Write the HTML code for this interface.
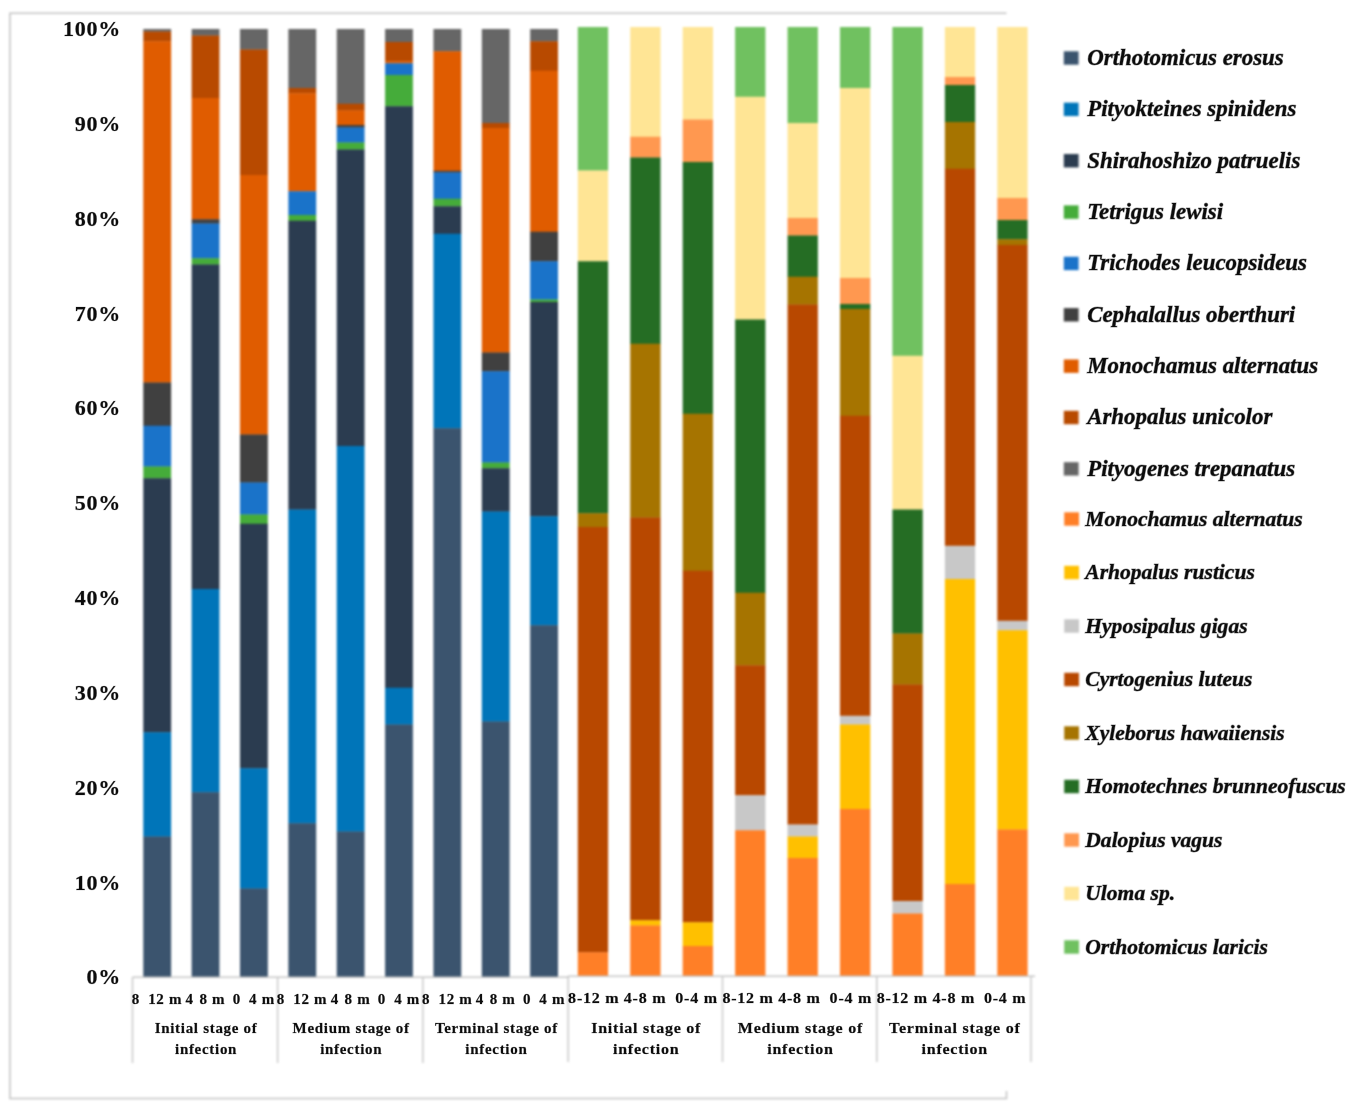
<!DOCTYPE html>
<html lang="en"><head><meta charset="utf-8"><title>Beetle community composition</title>
<style>
html,body{margin:0;padding:0;background:#fff;}
body{width:1362px;height:1108px;overflow:hidden;}
svg{display:block;}
text{font-family:"Liberation Serif","Times New Roman",serif;font-weight:bold;fill:#0c0c0c;stroke:rgba(12,12,12,0.4);stroke-width:1px;}
.yl{font-size:22px;letter-spacing:0.75px;stroke-width:0.7px;stroke:rgba(12,12,12,0.3);}
.lc{font-size:15px;letter-spacing:0.7px;stroke-width:0.5px;stroke:rgba(12,12,12,0.35);}
.ls{font-size:15px;letter-spacing:0.7px;stroke-width:0.5px;stroke:rgba(12,12,12,0.35);}
.lg{font-size:22.9px;font-style:italic;}
.lg2{font-size:20.15px;font-style:italic;}
</style></head><body>
<svg width="1362" height="1108" viewBox="0 0 1362 1108">
<rect x="0" y="0" width="1362" height="1108" fill="#ffffff"/>
<g style="filter:blur(0.8px)">
<rect x="143.30" y="29.00" width="27.80" height="2.80" fill="#666666"/>
<rect x="143.30" y="31.50" width="27.80" height="10.05" fill="#b84a00"/>
<rect x="143.30" y="41.25" width="27.80" height="341.55" fill="#e05c00"/>
<rect x="143.30" y="382.50" width="27.80" height="43.55" fill="#404040"/>
<rect x="143.30" y="425.75" width="27.80" height="41.05" fill="#1a73c9"/>
<rect x="143.30" y="466.50" width="27.80" height="12.05" fill="#45ac3a"/>
<rect x="143.30" y="478.25" width="27.80" height="254.30" fill="#2b3c50"/>
<rect x="143.30" y="732.25" width="27.80" height="104.55" fill="#0075b9"/>
<rect x="143.30" y="836.50" width="27.80" height="140.50" fill="#3b546e"/>
<rect x="191.66" y="29.00" width="27.80" height="6.80" fill="#666666"/>
<rect x="191.66" y="35.50" width="27.80" height="62.80" fill="#b84a00"/>
<rect x="191.66" y="98.00" width="27.80" height="121.55" fill="#e05c00"/>
<rect x="191.66" y="219.25" width="27.80" height="4.55" fill="#404040"/>
<rect x="191.66" y="223.50" width="27.80" height="35.05" fill="#1a73c9"/>
<rect x="191.66" y="258.25" width="27.80" height="6.55" fill="#45ac3a"/>
<rect x="191.66" y="264.50" width="27.80" height="324.80" fill="#2b3c50"/>
<rect x="191.66" y="589.00" width="27.80" height="203.55" fill="#0075b9"/>
<rect x="191.66" y="792.25" width="27.80" height="184.75" fill="#3b546e"/>
<rect x="240.02" y="29.00" width="27.80" height="20.80" fill="#666666"/>
<rect x="240.02" y="49.50" width="27.80" height="125.80" fill="#b84a00"/>
<rect x="240.02" y="175.00" width="27.80" height="259.80" fill="#e05c00"/>
<rect x="240.02" y="434.50" width="27.80" height="48.30" fill="#404040"/>
<rect x="240.02" y="482.50" width="27.80" height="32.30" fill="#1a73c9"/>
<rect x="240.02" y="514.50" width="27.80" height="9.55" fill="#45ac3a"/>
<rect x="240.02" y="523.75" width="27.80" height="244.80" fill="#2b3c50"/>
<rect x="240.02" y="768.25" width="27.80" height="120.55" fill="#0075b9"/>
<rect x="240.02" y="888.50" width="27.80" height="88.50" fill="#3b546e"/>
<rect x="288.38" y="29.00" width="27.80" height="59.30" fill="#666666"/>
<rect x="288.38" y="88.00" width="27.80" height="5.55" fill="#b84a00"/>
<rect x="288.38" y="93.25" width="27.80" height="98.30" fill="#e05c00"/>
<rect x="288.38" y="191.25" width="27.80" height="24.05" fill="#1a73c9"/>
<rect x="288.38" y="215.00" width="27.80" height="6.05" fill="#45ac3a"/>
<rect x="288.38" y="220.75" width="27.80" height="289.05" fill="#2b3c50"/>
<rect x="288.38" y="509.50" width="27.80" height="314.05" fill="#0075b9"/>
<rect x="288.38" y="823.25" width="27.80" height="153.75" fill="#3b546e"/>
<rect x="336.74" y="29.00" width="27.80" height="75.05" fill="#666666"/>
<rect x="336.74" y="103.75" width="27.80" height="7.05" fill="#b84a00"/>
<rect x="336.74" y="110.50" width="27.80" height="14.80" fill="#e05c00"/>
<rect x="336.74" y="125.00" width="27.80" height="2.80" fill="#404040"/>
<rect x="336.74" y="127.50" width="27.80" height="15.30" fill="#1a73c9"/>
<rect x="336.74" y="142.50" width="27.80" height="7.30" fill="#45ac3a"/>
<rect x="336.74" y="149.50" width="27.80" height="296.80" fill="#2b3c50"/>
<rect x="336.74" y="446.00" width="27.80" height="385.80" fill="#0075b9"/>
<rect x="336.74" y="831.50" width="27.80" height="145.50" fill="#3b546e"/>
<rect x="385.10" y="29.00" width="27.80" height="13.30" fill="#666666"/>
<rect x="385.10" y="42.00" width="27.80" height="19.55" fill="#b84a00"/>
<rect x="385.10" y="61.25" width="27.80" height="2.30" fill="#e05c00"/>
<rect x="385.10" y="63.25" width="27.80" height="12.05" fill="#1a73c9"/>
<rect x="385.10" y="75.00" width="27.80" height="31.55" fill="#45ac3a"/>
<rect x="385.10" y="106.25" width="27.80" height="581.80" fill="#2b3c50"/>
<rect x="385.10" y="687.75" width="27.80" height="37.05" fill="#0075b9"/>
<rect x="385.10" y="724.50" width="27.80" height="252.50" fill="#3b546e"/>
<rect x="433.46" y="29.00" width="27.80" height="22.55" fill="#666666"/>
<rect x="433.46" y="51.25" width="27.80" height="119.80" fill="#e05c00"/>
<rect x="433.46" y="170.75" width="27.80" height="2.05" fill="#404040"/>
<rect x="433.46" y="172.50" width="27.80" height="26.55" fill="#1a73c9"/>
<rect x="433.46" y="198.75" width="27.80" height="7.80" fill="#45ac3a"/>
<rect x="433.46" y="206.25" width="27.80" height="27.80" fill="#2b3c50"/>
<rect x="433.46" y="233.75" width="27.80" height="194.80" fill="#0075b9"/>
<rect x="433.46" y="428.25" width="27.80" height="548.75" fill="#3b546e"/>
<rect x="481.82" y="29.00" width="27.80" height="94.30" fill="#666666"/>
<rect x="481.82" y="123.00" width="27.80" height="5.30" fill="#b84a00"/>
<rect x="481.82" y="128.00" width="27.80" height="224.80" fill="#e05c00"/>
<rect x="481.82" y="352.50" width="27.80" height="19.05" fill="#404040"/>
<rect x="481.82" y="371.25" width="27.80" height="91.55" fill="#1a73c9"/>
<rect x="481.82" y="462.50" width="27.80" height="6.05" fill="#45ac3a"/>
<rect x="481.82" y="468.25" width="27.80" height="43.55" fill="#2b3c50"/>
<rect x="481.82" y="511.50" width="27.80" height="210.30" fill="#0075b9"/>
<rect x="481.82" y="721.50" width="27.80" height="255.50" fill="#3b546e"/>
<rect x="530.18" y="29.00" width="27.80" height="12.55" fill="#666666"/>
<rect x="530.18" y="41.25" width="27.80" height="29.80" fill="#b84a00"/>
<rect x="530.18" y="70.75" width="27.80" height="161.30" fill="#e05c00"/>
<rect x="530.18" y="231.75" width="27.80" height="29.80" fill="#404040"/>
<rect x="530.18" y="261.25" width="27.80" height="38.55" fill="#1a73c9"/>
<rect x="530.18" y="299.50" width="27.80" height="2.80" fill="#45ac3a"/>
<rect x="530.18" y="302.00" width="27.80" height="214.55" fill="#2b3c50"/>
<rect x="530.18" y="516.25" width="27.80" height="109.30" fill="#0075b9"/>
<rect x="530.18" y="625.25" width="27.80" height="351.75" fill="#3b546e"/>
<rect x="577.80" y="27.00" width="30.30" height="143.80" fill="#70c160"/>
<rect x="577.80" y="170.50" width="30.30" height="91.05" fill="#ffe595"/>
<rect x="577.80" y="261.25" width="30.30" height="252.30" fill="#256d24"/>
<rect x="577.80" y="513.25" width="30.30" height="14.05" fill="#a67400"/>
<rect x="577.80" y="527.00" width="30.30" height="425.55" fill="#b84800"/>
<rect x="577.80" y="952.25" width="30.30" height="23.75" fill="#ff7f27"/>
<rect x="630.24" y="27.00" width="30.30" height="110.05" fill="#ffe595"/>
<rect x="630.24" y="136.75" width="30.30" height="21.05" fill="#ff9850"/>
<rect x="630.24" y="157.50" width="30.30" height="186.55" fill="#256d24"/>
<rect x="630.24" y="343.75" width="30.30" height="174.05" fill="#a67400"/>
<rect x="630.24" y="517.50" width="30.30" height="403.05" fill="#b84800"/>
<rect x="630.24" y="920.25" width="30.30" height="5.55" fill="#ffc000"/>
<rect x="630.24" y="925.50" width="30.30" height="50.50" fill="#ff7f27"/>
<rect x="682.68" y="27.00" width="30.30" height="92.80" fill="#ffe595"/>
<rect x="682.68" y="119.50" width="30.30" height="42.80" fill="#ff9850"/>
<rect x="682.68" y="162.00" width="30.30" height="252.05" fill="#256d24"/>
<rect x="682.68" y="413.75" width="30.30" height="157.30" fill="#a67400"/>
<rect x="682.68" y="570.75" width="30.30" height="351.80" fill="#b84800"/>
<rect x="682.68" y="922.25" width="30.30" height="24.05" fill="#ffc000"/>
<rect x="682.68" y="946.00" width="30.30" height="30.00" fill="#ff7f27"/>
<rect x="735.12" y="27.00" width="30.30" height="70.05" fill="#70c160"/>
<rect x="735.12" y="96.75" width="30.30" height="223.05" fill="#ffe595"/>
<rect x="735.12" y="319.50" width="30.30" height="273.55" fill="#256d24"/>
<rect x="735.12" y="592.75" width="30.30" height="72.80" fill="#a67400"/>
<rect x="735.12" y="665.25" width="30.30" height="130.30" fill="#b84800"/>
<rect x="735.12" y="795.25" width="30.30" height="35.30" fill="#c8c8c8"/>
<rect x="735.12" y="830.25" width="30.30" height="145.75" fill="#ff7f27"/>
<rect x="787.56" y="27.00" width="30.30" height="96.30" fill="#70c160"/>
<rect x="787.56" y="123.00" width="30.30" height="95.30" fill="#ffe595"/>
<rect x="787.56" y="218.00" width="30.30" height="17.80" fill="#ff9850"/>
<rect x="787.56" y="235.50" width="30.30" height="41.55" fill="#256d24"/>
<rect x="787.56" y="276.75" width="30.30" height="28.05" fill="#a67400"/>
<rect x="787.56" y="304.50" width="30.30" height="520.30" fill="#b84800"/>
<rect x="787.56" y="824.50" width="30.30" height="12.30" fill="#c8c8c8"/>
<rect x="787.56" y="836.50" width="30.30" height="21.80" fill="#ffc000"/>
<rect x="787.56" y="858.00" width="30.30" height="118.00" fill="#ff7f27"/>
<rect x="840.00" y="27.00" width="30.30" height="61.30" fill="#70c160"/>
<rect x="840.00" y="88.00" width="30.30" height="190.30" fill="#ffe595"/>
<rect x="840.00" y="278.00" width="30.30" height="26.30" fill="#ff9850"/>
<rect x="840.00" y="304.00" width="30.30" height="5.30" fill="#256d24"/>
<rect x="840.00" y="309.00" width="30.30" height="107.05" fill="#a67400"/>
<rect x="840.00" y="415.75" width="30.30" height="300.30" fill="#b84800"/>
<rect x="840.00" y="715.75" width="30.30" height="9.05" fill="#c8c8c8"/>
<rect x="840.00" y="724.50" width="30.30" height="84.80" fill="#ffc000"/>
<rect x="840.00" y="809.00" width="30.30" height="167.00" fill="#ff7f27"/>
<rect x="892.44" y="27.00" width="30.30" height="329.05" fill="#70c160"/>
<rect x="892.44" y="355.75" width="30.30" height="154.05" fill="#ffe595"/>
<rect x="892.44" y="509.50" width="30.30" height="124.30" fill="#256d24"/>
<rect x="892.44" y="633.50" width="30.30" height="51.30" fill="#a67400"/>
<rect x="892.44" y="684.50" width="30.30" height="216.80" fill="#b84800"/>
<rect x="892.44" y="901.00" width="30.30" height="12.80" fill="#c8c8c8"/>
<rect x="892.44" y="913.50" width="30.30" height="62.50" fill="#ff7f27"/>
<rect x="944.88" y="27.00" width="30.30" height="50.30" fill="#ffe595"/>
<rect x="944.88" y="77.00" width="30.30" height="8.30" fill="#ff9850"/>
<rect x="944.88" y="85.00" width="30.30" height="37.30" fill="#256d24"/>
<rect x="944.88" y="122.00" width="30.30" height="47.05" fill="#a67400"/>
<rect x="944.88" y="168.75" width="30.30" height="377.30" fill="#b84800"/>
<rect x="944.88" y="545.75" width="30.30" height="33.55" fill="#c8c8c8"/>
<rect x="944.88" y="579.00" width="30.30" height="305.30" fill="#ffc000"/>
<rect x="944.88" y="884.00" width="30.30" height="92.00" fill="#ff7f27"/>
<rect x="997.32" y="27.00" width="30.30" height="171.30" fill="#ffe595"/>
<rect x="997.32" y="198.00" width="30.30" height="22.30" fill="#ff9850"/>
<rect x="997.32" y="220.00" width="30.30" height="19.55" fill="#256d24"/>
<rect x="997.32" y="239.25" width="30.30" height="6.05" fill="#a67400"/>
<rect x="997.32" y="245.00" width="30.30" height="376.05" fill="#b84800"/>
<rect x="997.32" y="620.75" width="30.30" height="9.80" fill="#c8c8c8"/>
<rect x="997.32" y="630.25" width="30.30" height="199.55" fill="#ffc000"/>
<rect x="997.32" y="829.50" width="30.30" height="146.50" fill="#ff7f27"/>
<path d="M1006.5 1091 V1098.4 H9.9 V13.2 H1006.5" fill="none" stroke="#c2c2c2" stroke-width="1.5"/>
<path d="M132.5 977.3 H568" fill="none" stroke="#c6c6c6" stroke-width="1.4"/>
<path d="M568 976.2 H1035" fill="none" stroke="#c6c6c6" stroke-width="1.4"/>
<path d="M132.5 977 V1063" fill="none" stroke="#c6c6c6" stroke-width="1.4"/>
<path d="M277.6 977 V1063" fill="none" stroke="#c6c6c6" stroke-width="1.4"/>
<path d="M422.9 977 V1063" fill="none" stroke="#c6c6c6" stroke-width="1.4"/>
<path d="M568.2 976 V1062" fill="none" stroke="#c6c6c6" stroke-width="1.4"/>
<path d="M722.5 976 V1062" fill="none" stroke="#c6c6c6" stroke-width="1.4"/>
<path d="M876.8 976 V1062" fill="none" stroke="#c6c6c6" stroke-width="1.4"/>
<path d="M1031 976 V1062" fill="none" stroke="#c6c6c6" stroke-width="1.4"/>
<rect x="1063.80" y="51.30" width="14.80" height="13.40" fill="#3b546e"/>
<rect x="1063.80" y="102.66" width="14.80" height="13.40" fill="#0075b9"/>
<rect x="1063.80" y="154.02" width="14.80" height="13.40" fill="#2b3c50"/>
<rect x="1063.80" y="205.38" width="14.80" height="13.40" fill="#45ac3a"/>
<rect x="1063.80" y="256.74" width="14.80" height="13.40" fill="#1a73c9"/>
<rect x="1063.80" y="308.10" width="14.80" height="13.40" fill="#404040"/>
<rect x="1063.80" y="359.46" width="14.80" height="13.40" fill="#e05c00"/>
<rect x="1063.80" y="410.82" width="14.80" height="13.40" fill="#b84a00"/>
<rect x="1063.80" y="462.18" width="14.80" height="13.40" fill="#666666"/>
<rect x="1064.20" y="512.30" width="14.80" height="13.40" fill="#ff7f27"/>
<rect x="1064.20" y="565.80" width="14.80" height="13.40" fill="#ffc000"/>
<rect x="1064.20" y="619.30" width="14.80" height="13.40" fill="#c8c8c8"/>
<rect x="1064.20" y="672.80" width="14.80" height="13.40" fill="#b84800"/>
<rect x="1064.20" y="726.30" width="14.80" height="13.40" fill="#a67400"/>
<rect x="1064.20" y="779.80" width="14.80" height="13.40" fill="#256d24"/>
<rect x="1064.20" y="833.30" width="14.80" height="13.40" fill="#ff9850"/>
<rect x="1064.20" y="886.80" width="14.80" height="13.40" fill="#ffe595"/>
<rect x="1064.20" y="940.30" width="14.80" height="13.40" fill="#70c160"/>
</g>
<g>
<text class="yl" x="120.9" y="984.4" text-anchor="end">0%</text>
<text class="yl" x="120.9" y="889.6" text-anchor="end">10%</text>
<text class="yl" x="120.9" y="794.7" text-anchor="end">20%</text>
<text class="yl" x="120.9" y="699.9" text-anchor="end">30%</text>
<text class="yl" x="120.9" y="605.0" text-anchor="end">40%</text>
<text class="yl" x="120.9" y="510.2" text-anchor="end">50%</text>
<text class="yl" x="120.9" y="415.4" text-anchor="end">60%</text>
<text class="yl" x="120.9" y="320.5" text-anchor="end">70%</text>
<text class="yl" x="120.9" y="225.7" text-anchor="end">80%</text>
<text class="yl" x="120.9" y="130.8" text-anchor="end">90%</text>
<text class="yl" x="120.9" y="36.0" text-anchor="end">100%</text>
<text class="lc" x="157.0" y="1003.7" text-anchor="middle">8 12 m</text>
<text class="lc" x="205.4" y="1003.7" text-anchor="middle">4 8 m</text>
<text class="lc" x="253.8" y="1003.7" text-anchor="middle">0 4 m</text>
<text class="ls" x="206.1" y="1033.2" text-anchor="middle">Initial stage of</text>
<text class="ls" x="206.1" y="1053.6" text-anchor="middle">infection</text>
<text class="lc" x="302.1" y="1003.7" text-anchor="middle">8 12 m</text>
<text class="lc" x="350.5" y="1003.7" text-anchor="middle">4 8 m</text>
<text class="lc" x="398.9" y="1003.7" text-anchor="middle">0 4 m</text>
<text class="ls" x="351.2" y="1033.2" text-anchor="middle">Medium stage of</text>
<text class="ls" x="351.2" y="1053.6" text-anchor="middle">infection</text>
<text class="lc" x="447.3" y="1003.7" text-anchor="middle">8 12 m</text>
<text class="lc" x="495.7" y="1003.7" text-anchor="middle">4 8 m</text>
<text class="lc" x="544.1" y="1003.7" text-anchor="middle">0 4 m</text>
<text class="ls" x="496.4" y="1033.2" text-anchor="middle">Terminal stage of</text>
<text class="ls" x="496.4" y="1053.6" text-anchor="middle">infection</text>
<g transform="scale(1.07,1)">
<text class="lc" x="554.9" y="1003.5" text-anchor="middle">8-12 m</text>
<text class="lc" x="602.9" y="1003.5" text-anchor="middle">4-8 m</text>
<text class="lc" x="651.0" y="1003.5" text-anchor="middle">0-4 m</text>
<text class="ls" x="603.9" y="1033.3" text-anchor="middle">Initial stage of</text>
<text class="ls" x="603.9" y="1053.7" text-anchor="middle">infection</text>
<text class="lc" x="699.1" y="1003.5" text-anchor="middle">8-12 m</text>
<text class="lc" x="747.1" y="1003.5" text-anchor="middle">4-8 m</text>
<text class="lc" x="795.2" y="1003.5" text-anchor="middle">0-4 m</text>
<text class="ls" x="748.1" y="1033.3" text-anchor="middle">Medium stage of</text>
<text class="ls" x="748.1" y="1053.7" text-anchor="middle">infection</text>
<text class="lc" x="843.3" y="1003.5" text-anchor="middle">8-12 m</text>
<text class="lc" x="891.4" y="1003.5" text-anchor="middle">4-8 m</text>
<text class="lc" x="939.4" y="1003.5" text-anchor="middle">0-4 m</text>
<text class="ls" x="892.3" y="1033.3" text-anchor="middle">Terminal stage of</text>
<text class="ls" x="892.3" y="1053.7" text-anchor="middle">infection</text>
</g>
<text class="lg" x="1087.2" y="64.9">Orthotomicus erosus</text>
<text class="lg" x="1087.2" y="116.3">Pityokteines spinidens</text>
<text class="lg" x="1087.2" y="167.6">Shirahoshizo patruelis</text>
<text class="lg" x="1087.2" y="219.0">Tetrigus lewisi</text>
<text class="lg" x="1087.2" y="270.3">Trichodes leucopsideus</text>
<text class="lg" x="1087.2" y="321.7">Cephalallus oberthuri</text>
<text class="lg" x="1087.2" y="373.1">Monochamus alternatus</text>
<text class="lg" x="1087.2" y="424.4">Arhopalus unicolor</text>
<text class="lg" x="1087.2" y="475.8">Pityogenes trepanatus</text>
<g transform="scale(1.07,1)">
<text class="lg2" x="1014.3" y="526.0">Monochamus alternatus</text>
<text class="lg2" x="1014.3" y="579.5">Arhopalus rusticus</text>
<text class="lg2" x="1014.3" y="633.0">Hyposipalus gigas</text>
<text class="lg2" x="1014.3" y="686.5">Cyrtogenius luteus</text>
<text class="lg2" x="1014.3" y="740.0">Xyleborus hawaiiensis</text>
<text class="lg2" x="1014.3" y="793.5">Homotechnes brunneofuscus</text>
<text class="lg2" x="1014.3" y="847.0">Dalopius vagus</text>
<text class="lg2" x="1014.3" y="900.5">Uloma sp.</text>
<text class="lg2" x="1014.3" y="954.0">Orthotomicus laricis</text>
</g>
</g>
</svg>
</body></html>
